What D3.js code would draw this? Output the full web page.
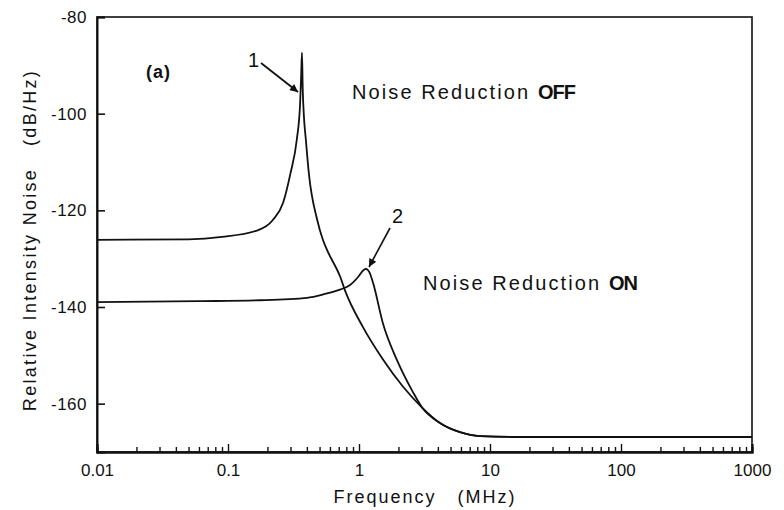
<!DOCTYPE html>
<html>
<head>
<meta charset="utf-8">
<script src="https://cdn.jsdelivr.net/npm/d3@7"></script>
<style>
  body { margin: 0; background: #fff; }
  svg { font-family: "Liberation Sans", Arial, sans-serif; }
  .tick text { font-size: 17px; fill: #111; }
</style>
</head>
<body>
<svg id="chart" width="784" height="510"></svg>
<script>
// data (frequency in MHz, noise in dB/Hz)
const offFreq = [0.01, 0.05, 0.09, 0.17, 0.22, 0.263, 0.30, 0.335, 0.355, 0.362, 0.367, 0.372, 0.38, 0.393, 0.414, 0.48, 0.53, 0.57, 0.72, 0.78, 1.07, 1.52, 2.17, 3.03, 4.15, 5.9, 8.4, 20, 1000];
const offDb = [-126.1, -126.0, -125.5, -124.1, -122.0, -118.5, -112.3, -105.4, -98, -92, -87.4, -95, -100.7, -105.4, -112.3, -122, -126.1, -128.2, -133.8, -136.5, -144.1, -150.8, -156.5, -160.8, -164.0, -165.9, -166.7, -166.9, -166.9];

const onFreq = [0.01, 0.06, 0.175, 0.40, 0.55, 0.716, 0.85, 0.97, 1.08, 1.13, 1.2, 1.28, 1.52, 1.95, 2.58, 3.03, 4.15, 5.9, 8.4, 20, 1000];
const onDb = [-139.0, -138.8, -138.6, -138.1, -137.3, -136.4, -135.5, -134, -132.4, -132.1, -132.8, -135.0, -143.3, -151.0, -157.6, -160.8, -164.0, -165.9, -166.7, -166.9, -166.9];

const xMajor = [0.01, 0.1, 1, 10, 100, 1000];
const xMajorLabels = ["0.01", "0.1", "1", "10", "100", "1000"];
const yTicks = [-160, -140, -120, -100, -80];
const yTickLabels = ["-160", "-140", "-120", "-100", "-80"];

const svg = d3.select("#chart");
const mLeft = 97, mRight = 752, mTop = 17, mBottom = 452;

const x = d3.scaleLog().domain([0.01, 1000]).range([mLeft, mRight]);
const y = d3.scaleLinear().domain([-170, -80]).range([mBottom, mTop]);

// minor ticks 2..9 in every decade
const xMinor = [];
xMajor.slice(0, -1).forEach(d => {
  for (let k = 2; k <= 9; k++) xMinor.push(d * k);
});

// frame
svg.append("rect")
  .attr("x", mLeft).attr("y", mTop)
  .attr("width", mRight - mLeft).attr("height", mBottom - mTop)
  .attr("fill", "none").attr("stroke", "#111").attr("stroke-width", 1.6);

// bottom axis
const gx = svg.append("g").attr("transform", `translate(0,${mBottom})`);
gx.call(d3.axisBottom(x).tickValues(xMinor).tickSize(-5).tickFormat(""));
const gxMajor = svg.append("g").attr("transform", `translate(0,${mBottom})`);
gxMajor.call(d3.axisBottom(x).tickValues(xMajor).tickSize(-8).tickPadding(12)
  .tickFormat((d, i) => xMajorLabels[i]));
svg.selectAll(".domain").attr("stroke", "#111").attr("stroke-width", 2);
gx.selectAll(".tick line").attr("stroke", "#111").attr("stroke-width", 1.4);
gxMajor.selectAll(".tick line").attr("stroke", "#111").attr("stroke-width", 1.4);

// left axis
const gy = svg.append("g").attr("transform", `translate(${mLeft},0)`);
gy.call(d3.axisLeft(y).tickValues(yTicks).tickSize(-8).tickPadding(10)
  .tickFormat((d, i) => yTickLabels[i]));
gy.selectAll(".domain").attr("stroke", "#111").attr("stroke-width", 2);
gy.selectAll(".tick line").attr("stroke", "#111").attr("stroke-width", 1.6);
gy.selectAll(".tick text").attr("letter-spacing", "0.5px");

// curves
const line = d3.line()
  .x(d => x(d[0]))
  .y(d => y(d[1]))
  .curve(d3.curveMonotoneX);

const offData = offFreq.map((f, i) => [f, offDb[i]]);
const onData = onFreq.map((f, i) => [f, onDb[i]]);

[offData, onData].forEach(data => {
  svg.append("path")
    .attr("d", line(data))
    .attr("fill", "none")
    .attr("stroke", "#111")
    .attr("stroke-width", 1.8);
});

// arrow markers
svg.append("defs").append("marker")
  .attr("id", "arrow")
  .attr("viewBox", "0 0 10 10")
  .attr("refX", 10).attr("refY", 5)
  .attr("markerWidth", 12).attr("markerHeight", 8)
  .attr("markerUnits", "userSpaceOnUse")
  .attr("orient", "auto")
  .append("path")
  .attr("d", "M0,0 L10,5 L0,10 z")
  .attr("fill", "#111");

svg.append("line")
  .attr("x1", 261).attr("y1", 63).attr("x2", 298).attr("y2", 92)
  .attr("stroke", "#111").attr("stroke-width", 1.8)
  .attr("marker-end", "url(#arrow)");
svg.append("line")
  .attr("x1", 390).attr("y1", 228).attr("x2", 369).attr("y2", 267)
  .attr("stroke", "#111").attr("stroke-width", 1.6)
  .attr("marker-end", "url(#arrow)");

// annotations
const txt = (tx, ty, s, opts = {}) => svg.append("text")
  .attr("x", tx).attr("y", ty)
  .attr("font-size", opts.size || 20)
  .attr("font-weight", opts.weight || "normal")
  .attr("letter-spacing", opts.ls || "0px")
  .attr("text-anchor", opts.anchor || "start")
  .attr("fill", "#111")
  .text(s);

txt(146, 78, "(a)", {size: 18, weight: "bold", ls: "1px"});
txt(248, 67, "1", {size: 20});
txt(392, 223, "2", {size: 20});

const offLabel = txt(352, 99, "Noise Reduction ", {ls: "2.1px"});
offLabel.append("tspan").attr("font-weight", "bold").attr("letter-spacing", "-1px").text("OFF");
const onLabel = txt(423, 290, "Noise Reduction ", {ls: "2.1px"});
onLabel.append("tspan").attr("font-weight", "bold").attr("letter-spacing", "-1px").text("ON");

// axis titles
txt(425, 503, "Frequency\u00a0\u00a0 (MHz)", {size: 18, ls: "2px", anchor: "middle"});
svg.append("text")
  .attr("transform", "translate(36,240) rotate(-90)")
  .attr("text-anchor", "middle")
  .attr("font-size", 18)
  .attr("letter-spacing", "2.3px")
  .attr("fill", "#111")
  .text("Relative Intensity Noise\u00a0\u00a0 (dB/Hz)");
</script>
</body>
</html>
